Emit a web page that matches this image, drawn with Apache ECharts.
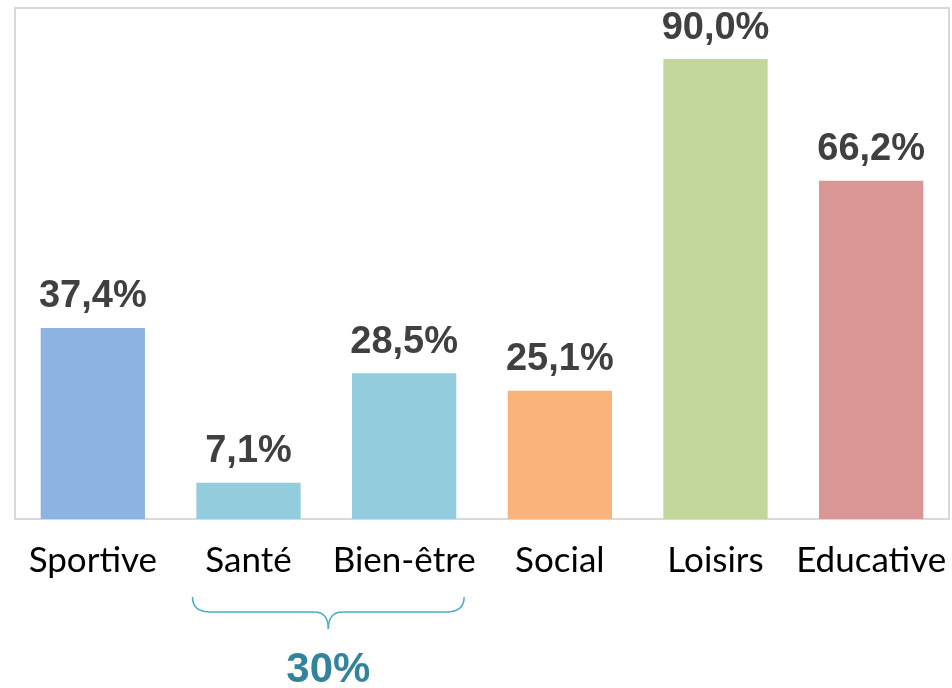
<!DOCTYPE html>
<html>
<head>
<meta charset="utf-8">
<script src="https://cdn.jsdelivr.net/npm/echarts@6/dist/echarts.min.js"></script>
<style>
  html, body { margin: 0; padding: 0; background: #fff; }
  #main { width: 952px; height: 688px; }
</style>
</head>
<body>
<div id="main"></div>
<script>
  // data
  var categories = ['Sportive', 'Santé', 'Bien-être', 'Social', 'Loisirs', 'Educative'];
  var values = [37.4, 7.1, 28.5, 25.1, 90.0, 66.2];
  var groupCats = ['Santé', 'Bien-être'];
  var groupLabel = '30%';

  var barColors = ['#8eb4e3', '#93cddd', '#93cddd', '#f9b37b', '#c3d69b', '#d99694'];

  var myChart = echarts.init(document.getElementById('main'));

  var option = {
    backgroundColor: '#fff',
    animation: false,
    grid: {
      left: 15, right: 3, top: 8, bottom: 169,
      show: true, borderColor: '#d9d9d9', borderWidth: 2, backgroundColor: 'transparent'
    },
    xAxis: {
      type: 'category',
      data: categories,
      axisLine: { show: false },
      axisTick: { show: false },
      axisLabel: {
        color: '#000', fontFamily: 'Lato', fontSize: 35, margin: 24, interval: 0
      }
    },
    yAxis: {
      type: 'value', min: 0, max: 100,
      show: false,
      splitLine: { show: false }
    },
    series: [{
      type: 'bar',
      barWidth: '67%',
      data: values.map(function (v, i) {
        return { value: v, itemStyle: { color: barColors[i] } };
      }),
      label: {
        show: true,
        position: 'top',
        distance: 12,
        color: '#404040',
        fontFamily: 'Liberation Sans',
        fontWeight: 'bold',
        fontSize: 38,
        formatter: function (p) {
          return p.value.toFixed(1).replace('.', ',') + '%';
        }
      }
    }]
  };
  myChart.setOption(option);

  // brace under the grouped categories
  var c1 = myChart.convertToPixel({ xAxisIndex: 0 }, groupCats[0]);
  var c2 = myChart.convertToPixel({ xAxisIndex: 0 }, groupCats[1]);
  var y0 = myChart.convertToPixel({ yAxisIndex: 0 }, 0);
  var half = 52;
  var x1 = c1 - half - 4, x2 = c2 + half + 8, mid = (x1 + x2) / 2;
  var yt = y0 + 78, ym = y0 + 93, yb = y0 + 110;
  var braceStyle = { fill: null, stroke: '#4bacc6', lineWidth: 1.5 };

  function curve(ax, ay, cx, cy, bx, by) {
    return { type: 'bezierCurve', shape: { x1: ax, y1: ay, x2: bx, y2: by, cpx1: cx, cpy1: cy }, style: braceStyle };
  }
  function seg(ax, ay, bx, by) {
    return { type: 'line', shape: { x1: ax, y1: ay, x2: bx, y2: by }, style: braceStyle };
  }

  myChart.setOption({
    graphic: [
      curve(x1, yt, x1, ym, x1 + 18, ym),
      seg(x1 + 18, ym, mid - 14, ym),
      curve(mid - 14, ym, mid, ym, mid, yb),
      curve(mid, yb, mid, ym, mid + 14, ym),
      seg(mid + 14, ym, x2 - 18, ym),
      curve(x2 - 18, ym, x2, ym, x2, yt),
      {
        type: 'text',
        x: mid, y: y0 + 151,
        style: {
          text: groupLabel,
          fill: '#31849b',
          font: 'bold 42px "Liberation Sans"',
          textAlign: 'center',
          textVerticalAlign: 'middle'
        }
      }
    ]
  });
</script>
</body>
</html>
